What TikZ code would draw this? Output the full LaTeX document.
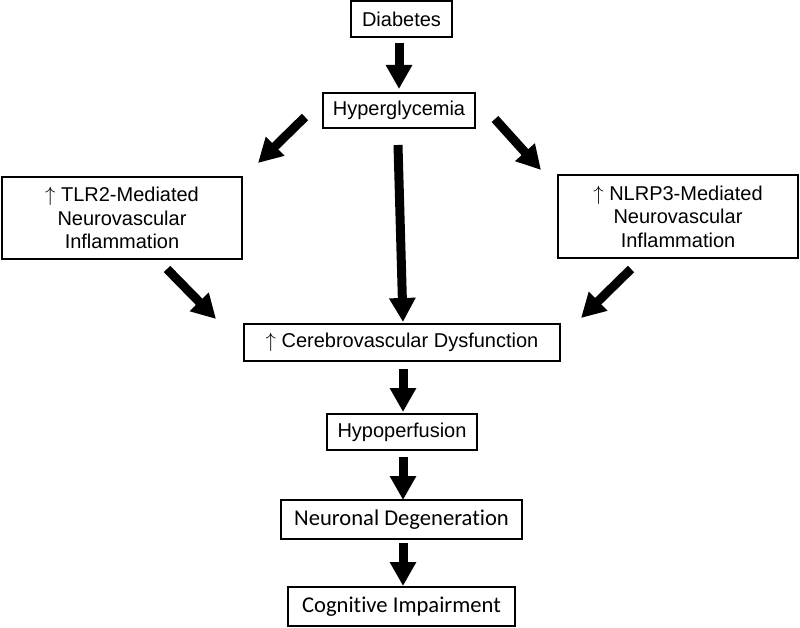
\documentclass[tikz,border=0pt]{standalone}
\usepackage{fontspec}
\setmainfont{Liberation Sans}
\newfontfamily\calib[Ligatures=NoCommon]{Carlito}
\usetikzlibrary{arrows.meta}
\newcommand{\upar}{$\uparrow$\ }
\tikzset{
  box/.style={draw=black, line width=1.3pt, rectangle, inner sep=0pt, align=center,
    font=\fontsize{20}{23.5}\selectfont},
  cbox/.style={box, font=\calib\fontsize{22.6}{26}\selectfont},
  bigarrow/.style={line width=9pt, -{Triangle[length=24pt,width=25pt]}}
}
\begin{document}
\begin{tikzpicture}[x=1pt,y=-1pt]
\useasboundingbox (0,0) rectangle (800,628);
\node[box, minimum width=101pt, minimum height=36pt] (diab) at (401.5,19) {Diabetes};
\node[box, minimum width=152pt, minimum height=35pt] (hyper) at (399,110.5) {Hyperglycemia};
\node[box, minimum width=240pt, minimum height=82pt] (tlr) at (122,218) {\upar TLR2-Mediated\\Neurovascular\\Inflammation};
\node[box, minimum width=240pt, minimum height=83pt] (nlrp) at (678,216.5) {\upar NLRP3-Mediated\\Neurovascular\\Inflammation};
\node[box, minimum width=316pt, minimum height=37pt] (cereb) at (402,342.5) {\upar Cerebrovascular Dysfunction};
\node[box, minimum width=150pt, minimum height=36pt] (hypo) at (402,432) {Hypoperfusion};
\node[cbox, minimum width=241pt, minimum height=39pt] (neur) at (401.5,519.5) {Neuronal Degeneration};
\node[cbox, minimum width=227pt, minimum height=39pt] (cogn) at (401.5,606.5) {Cognitive Impairment};

\coordinate (a1s) at (399,43);  \coordinate (a1e) at (399,89);
\coordinate (a2s) at (305,117); \coordinate (a2e) at (258,163);
\coordinate (a3s) at (495,119); \coordinate (a3e) at (541,170);
\coordinate (a4s) at (398,145); \coordinate (a4e) at (403,322);
\coordinate (a5s) at (167,269); \coordinate (a5e) at (216,319);
\coordinate (a6s) at (631,269); \coordinate (a6e) at (581,318);
\coordinate (a7s) at (403,369); \coordinate (a7e) at (403,412);
\coordinate (a8s) at (403,457); \coordinate (a8e) at (403,500);
\coordinate (a9s) at (403,543); \coordinate (a9e) at (403,586);

\draw[bigarrow] (a1s) -- (a1e);
\draw[bigarrow] (a2s) -- (a2e);
\draw[bigarrow] (a3s) -- (a3e);
\draw[bigarrow] (a4s) -- (a4e);
\draw[bigarrow] (a5s) -- (a5e);
\draw[bigarrow] (a6s) -- (a6e);
\draw[bigarrow] (a7s) -- (a7e);
\draw[bigarrow] (a8s) -- (a8e);
\draw[bigarrow] (a9s) -- (a9e);
\end{tikzpicture}
\end{document}
